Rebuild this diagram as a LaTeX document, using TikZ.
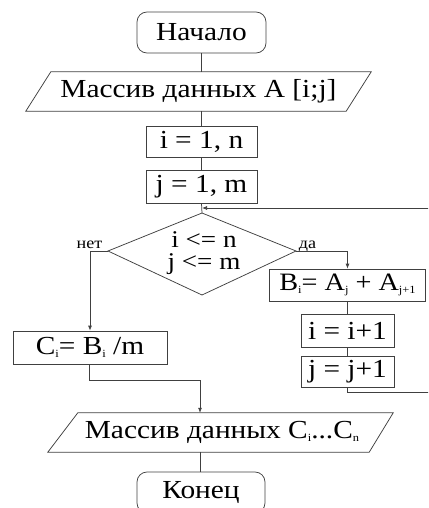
\documentclass[tikz,border=0pt]{standalone}
\usepackage{fontspec}
\setmainfont[FakeStretch=1.13]{Liberation Serif}
\usetikzlibrary{arrows.meta,calc}
\newcommand{\subx}[1]{\raisebox{-0.12em}{\fontsize{11}{11}\selectfont #1}}
\begin{document}
\begin{tikzpicture}[x=1pt,y=-1pt,
  every node/.style={font=\fontsize{26}{28}\selectfont, inner sep=0pt, text=black},
  ln/.style={line width=0.75pt, draw=black!75},
  proc/.style={ln, rectangle},
  term/.style={ln, rounded corners=10pt},
  arr/.style={ln, -{Latex[length=5pt,width=4pt]}},
  lab/.style={font=\fontsize{16}{16}\selectfont},
  cond/.style={font=\fontsize{24}{22.5}\selectfont, align=center}]
\useasboundingbox (0,0) rectangle (428,508);
\clip (0,0) rectangle (428,508);
% nodes
\node[term, minimum width=129pt, minimum height=41pt] (start) at (201.5,32.5) {Начало};
\node[minimum width=320pt, minimum height=39pt] (in1) at (198.5,91.5) {Массив данных A [i;j]};
\node[proc, minimum width=111pt, minimum height=31pt] (ibox) at (201.5,141.5) {i = 1, n};
\node[proc, minimum width=111pt, minimum height=33pt] (jbox) at (201.5,186.5) {j = 1, m};
\coordinate (dtop) at (202,213);
\coordinate (dleft) at (108,251);
\coordinate (dright) at (296,251);
\coordinate (dbot) at (202,295);
\node[cond] (cnd) at (204,253) {i <= n\\j <= m};
\node[lab, anchor=base] (no) at (89.5,248) {нет};
\node[lab, anchor=base] (yes) at (307.5,248) {да};
\node[proc, minimum width=154pt, minimum height=33pt] (cbox) at (90,347.5) {C\subx{i}= B\subx{i} /m};
\node[proc, minimum width=156pt, minimum height=32pt, font=\fontsize{25}{27}\selectfont] (bbox) at (347.5,285) {B\subx{i}= A\subx{j} + A\subx{j+1}};
\node[proc, minimum width=93pt, minimum height=33pt] (iibox) at (347.5,330.5) {i = i+1};
\node[proc, minimum width=93pt, minimum height=31pt] (jjbox) at (347.5,372) {j = j+1};
\node[minimum width=318pt, minimum height=39pt] (in2) at (222,432.5) {Массив данных C\subx{i}...C\subx{n}};
\node[term, minimum width=128pt, minimum height=41pt] (stop) at (201,492.5) {Конец};
% shapes
\draw[ln] ([xshift=12.5pt]in1.north west) -- ([xshift=12.5pt]in1.north east)
  -- ([xshift=-12.5pt]in1.south east) -- ([xshift=-12.5pt]in1.south west) -- cycle;
\draw[ln] ([xshift=15pt]in2.north west) -- ([xshift=12pt]in2.north east)
  -- ([xshift=-12pt]in2.south east) -- ([xshift=-15pt]in2.south west) -- cycle;
\draw[ln] (dtop) -- (dright) -- (dbot) -- (dleft) -- cycle;
% connectors
\draw[ln] (start.south) -- (start.south |- in1.north);
\draw[ln] (start.south |- in1.south) -- (ibox.north);
\draw[ln] (ibox.south) -- (jbox.north);
\draw[ln] (jbox.south) -- (dtop);
\draw[arr] (dleft) -| (cbox.north);
\draw[arr] (dright) -| (bbox.north);
\draw[ln] (bbox.south) -- (iibox.north);
\draw[ln] (iibox.south) -- (jjbox.north);
\coordinate (rb) at (440,392);
\coordinate (rt) at (440,208);
\draw[arr] (jjbox.south) |- (rb) -- (rt) -- (dtop |- rt);
\coordinate (cj) at (200,380);
\draw[arr] ([xshift=-1pt]cbox.south) |- (cj) -- (cj |- in2.north);
\draw[ln] (cj |- in2.south) -- (cj |- stop.north);
\end{tikzpicture}
\end{document}
